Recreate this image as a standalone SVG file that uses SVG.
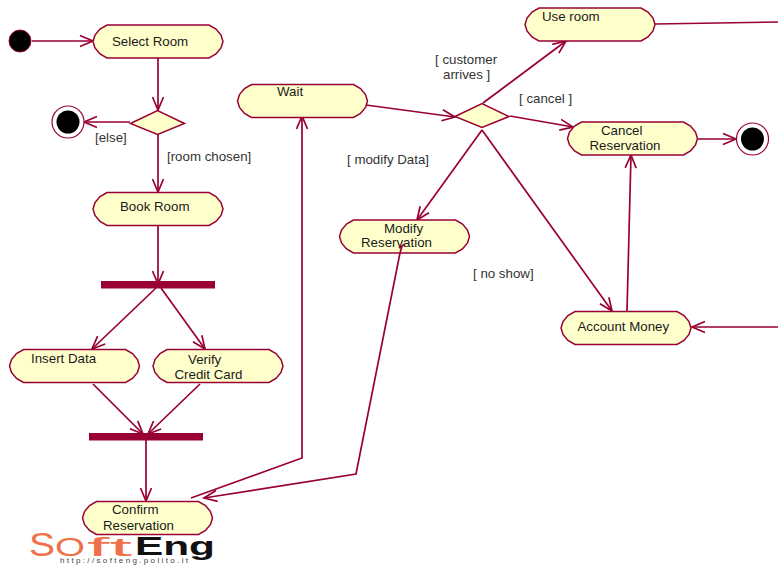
<svg xmlns="http://www.w3.org/2000/svg" xmlns:xlink="http://www.w3.org/1999/xlink" width="778" height="566" viewBox="0 0 778 566">
<style>
.a{fill:#ffffcc;stroke:#990033;stroke-width:1.5}
.c{fill:none;stroke:#990033;stroke-width:1.7}
.b{fill:#990033}
.t{font-family:"Liberation Sans",Arial,sans-serif;font-size:13.300px;fill:#1a1a1a}
.l{font-family:"Liberation Sans",Arial,sans-serif;font-size:13.300px;fill:#333}
.k{fill:#000;stroke:#990033;stroke-width:1}
.r{fill:#fff;stroke:#990033;stroke-width:1.2}
.o{font-family:"Liberation Sans",Arial,sans-serif;fill:#f0704a}
.e{font-family:"Liberation Sans",Arial,sans-serif;font-weight:bold;fill:#111}
</style>
<defs>
<path id="act" d="M14,0H116L123,4L128,10L130,16.500L128,23L123,29L116,33H14L7,29L2,23L0,16.500L2,10L7,4Z"/>
<path id="dia" d="M0,13L27,0L54,13L27,24Z"/>
<marker id="ar" markerUnits="userSpaceOnUse" markerWidth="20" markerHeight="20" refX="14" refY="7" orient="auto"><path d="M1,1.500L14,7L1,12.500" fill="none" stroke="#990033" stroke-width="1.7"/></marker>
</defs>
<g id="connectors">
<path class="c" marker-end="url(#ar)" d="M32,41H93"/>
<path class="c" marker-end="url(#ar)" d="M158,58V110"/>
<path class="c" marker-end="url(#ar)" d="M130,122H84"/>
<path class="c" marker-end="url(#ar)" d="M158,133V192"/>
<path class="c" marker-end="url(#ar)" d="M158,225V284"/>
<path class="c" marker-end="url(#ar)" d="M156,288L92,349"/>
<path class="c" marker-end="url(#ar)" d="M161,288L205,349"/>
<path class="c" marker-end="url(#ar)" d="M93,384L143,434"/>
<path class="c" marker-end="url(#ar)" d="M200,384L148,434"/>
<path class="c" marker-end="url(#ar)" d="M146,440V501"/>
<path class="c" marker-end="url(#ar)" d="M191,498L302,458V116"/>
<path class="c" marker-end="url(#ar)" d="M400,253L356,474L204,498"/>
<path class="c" marker-end="url(#ar)" d="M366,105L455,117"/>
<path class="c" marker-end="url(#ar)" d="M483,103L566,41"/>
<path class="c" marker-end="url(#ar)" d="M510,116L573,127"/>
<path class="c" marker-end="url(#ar)" d="M482,130L417,220"/>
<path class="c" marker-end="url(#ar)" d="M482,130L612,311"/>
<path class="c" marker-end="url(#ar)" d="M698,139H736"/>
<path class="c" marker-end="url(#ar)" d="M627,311L631,155"/>
<path class="c" d="M655,24L778,22"/>
<path class="c" marker-end="url(#ar)" d="M778,327H692"/>
</g>
<g id="start"><circle class="k" cx="20" cy="41" r="11"/></g>
<g id="select-room"><use xlink:href="#act" href="#act" class="a" x="93" y="25"/><text class="t" x="112" y="46">Select Room</text></g>
<g id="decision-room"><use xlink:href="#dia" href="#dia" class="a" x="130.500" y="110.500"/></g>
<g id="end-else"><circle class="r" cx="68" cy="122" r="16"/><circle cx="68" cy="122" r="11.500" fill="#000"/></g>
<g id="book-room"><use xlink:href="#act" href="#act" class="a" x="93" y="192.500"/><text class="t" x="120" y="211">Book Room</text></g>
<g id="fork"><rect class="b" x="101" y="281" width="114" height="7.500"/></g>
<g id="insert-data"><use xlink:href="#act" href="#act" class="a" x="9.500" y="349.500"/><text class="t" x="31" y="363">Insert Data</text></g>
<g id="verify"><use xlink:href="#act" href="#act" class="a" x="153" y="349.500"/><text class="t" x="188" y="364">Verify</text><text class="t" x="174.500" y="379">Credit Card</text></g>
<g id="join"><rect class="b" x="89" y="433" width="114" height="7.500"/></g>
<g id="confirm"><use xlink:href="#act" href="#act" class="a" x="82.500" y="501.500"/><text class="t" x="112" y="514">Confirm</text><text class="t" x="103" y="530">Reservation</text></g>
<g id="wait"><use xlink:href="#act" href="#act" class="a" x="237.500" y="84.500"/><text class="t" x="277" y="96">Wait</text></g>
<g id="decision-main"><use xlink:href="#dia" href="#dia" class="a" x="455" y="103.500"/></g>
<g id="use-room"><use xlink:href="#act" href="#act" class="a" x="525" y="8"/><text class="t" x="542" y="21">Use room</text></g>
<g id="cancel"><use xlink:href="#act" href="#act" class="a" x="567.500" y="122"/><text class="t" x="601" y="135">Cancel</text><text class="t" x="589.500" y="150">Reservation</text></g>
<g id="end-cancel"><circle class="r" cx="752.500" cy="139" r="16"/><circle cx="752.500" cy="139" r="11.500" fill="#000"/></g>
<g id="modify"><use xlink:href="#act" href="#act" class="a" x="339.500" y="220"/><text class="t" x="384" y="233">Modify</text><text class="t" x="361" y="247">Reservation</text><path class="c" d="M400,253L402,246M399,248L402,246L405,244"/></g>
<g id="account"><use xlink:href="#act" href="#act" class="a" x="561" y="311.500"/><text class="t" x="577.500" y="331">Account Money</text></g>
<g id="labels">
<text class="l" x="435" y="64">[ customer</text>
<text class="l" x="443" y="79">arrives ]</text>
<text class="l" x="95" y="142">[else]</text>
<text class="l" x="167" y="161">[room chosen]</text>
<text class="l" x="519" y="103">[ cancel ]</text>
<text class="l" x="347" y="164">[ modify Data]</text>
<text class="l" x="473" y="278">[ no show]</text>
</g>
<g id="logo">
<text class="o" x="29" y="556" font-size="33" textLength="26" lengthAdjust="spacingAndGlyphs">S</text>
<text class="o" x="55" y="556" font-size="25" textLength="30" lengthAdjust="spacingAndGlyphs">O</text>
<text class="o" x="87" y="556" font-size="25" textLength="45" lengthAdjust="spacingAndGlyphs">ft</text>
<text class="e" x="135" y="555" font-size="25" textLength="80" lengthAdjust="spacingAndGlyphs">Eng</text>
<text x="60" y="563" font-family="'Liberation Sans',Arial,sans-serif" font-size="8" fill="#444" textLength="128" lengthAdjust="spacing">http://softeng.polito.it</text>
</g>
</svg>
